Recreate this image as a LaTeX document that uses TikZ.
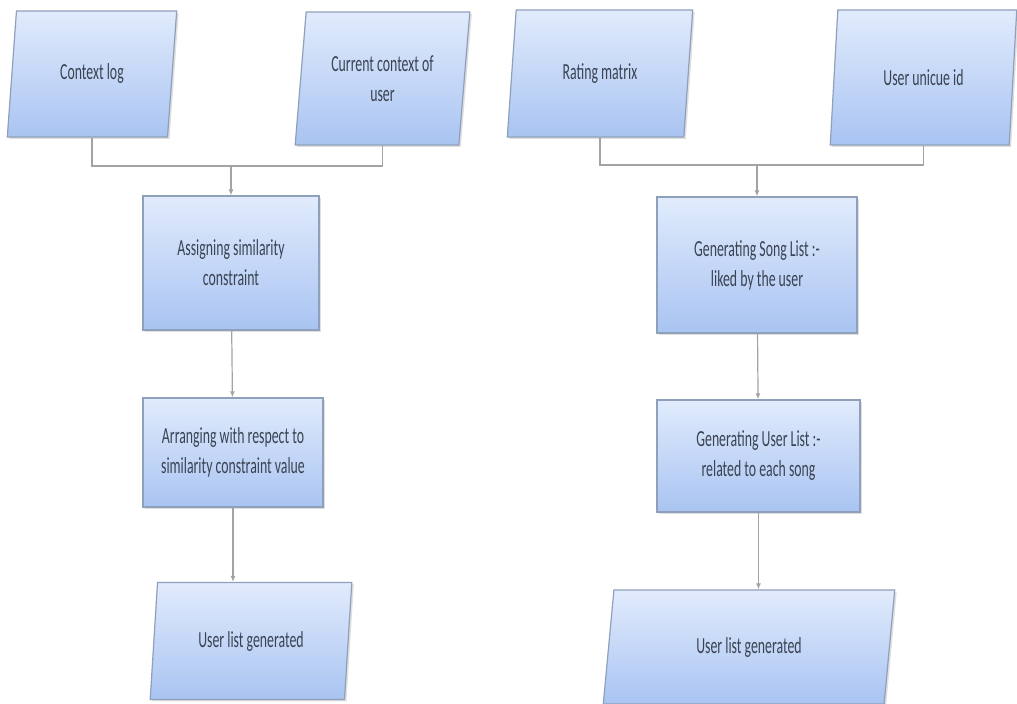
\documentclass[tikz,border=0pt]{standalone}
\usepackage{fontspec}
\setmainfont{Carlito}[FakeStretch=0.6]
\usetikzlibrary{positioning,shapes.geometric,arrows.meta,shadows}
\definecolor{boxtop}{HTML}{E1EBFC}
\definecolor{boxbottom}{HTML}{A9C4F2}
\definecolor{boxline}{HTML}{8FA0BA}
\definecolor{linkgray}{HTML}{A3A3A3}
\definecolor{textgray}{HTML}{3A4352}
\begin{document}
\begin{tikzpicture}[x=0.5pt,y=-0.5pt]
\tikzstyle{base}=[draw=boxline,line width=0.6pt,top color=boxtop,bottom color=boxbottom,text=textgray,align=center,font=\fontsize{11.5}{15}\selectfont,drop shadow={opacity=0.25,shadow xshift=1pt,shadow yshift=-1pt}]
\tikzstyle{io}=[base,trapezium,trapezium left angle=82,trapezium right angle=98,trapezium stretches=true]
\tikzstyle{stepbox}=[base,rectangle]
\tikzstyle{link}=[draw=linkgray,line width=0.6pt]
\tikzstyle{arrow}=[link,-{Latex[length=3pt,width=2.5pt]}]
\useasboundingbox (0,0) rectangle (1017,704);
\node[io,minimum width=85pt,minimum height=63pt] (ctxlog) at (92,74) {Context log};
\node[io,minimum width=87.5pt,minimum height=66.5pt] (curctx) at (382.5,78.5) {Current context of\\user};
\node[io,minimum width=93pt,minimum height=63.5pt] (rating) at (600,73.5) {Rating matrix};
\node[io,minimum width=93.5pt,minimum height=67.5pt] (userid) at (923.5,77.5) {User unicue id};
\node[stepbox,minimum width=88pt,minimum height=67pt] (assign) at (231,263) {Assigning similarity\\constraint};
\node[stepbox,minimum width=90pt,minimum height=54.5pt] (arrange) at (233,452.5) {Arranging with respect to\\similarity constraint value};
\node[io,minimum width=101pt,minimum height=58.5pt] (outleft) at (251,641) {User list generated};
\node[stepbox,minimum width=100pt,minimum height=68pt] (songlist) at (757,265) {Generating Song List :-\\liked by the user};
\node[stepbox,minimum width=101.5pt,minimum height=56pt] (userlist) at (758.5,456) {Generating User List :-\\related to each song};
\node[io,minimum width=146pt,minimum height=57pt] (outright) at (749,647) {User list generated};
\coordinate (mergeL) at (231,166);
\coordinate (mergeR) at (757,165);
\draw[link] (ctxlog.south) |- (mergeL); \draw[link] (curctx.south) |- (mergeL);
\draw[arrow] (mergeL) -- (assign.north);
\draw[arrow] (assign) -- (arrange);
\draw[arrow] (arrange.south) -- (arrange.south |- outleft.north);
\draw[link] (rating.south) |- (mergeR); \draw[link] (userid.south) |- (mergeR);
\draw[arrow] (mergeR) -- (songlist.north);
\draw[arrow] (songlist) -- (userlist);
\draw[arrow] (userlist.south) -- (userlist.south |- outright.north);
\end{tikzpicture}
\end{document}
